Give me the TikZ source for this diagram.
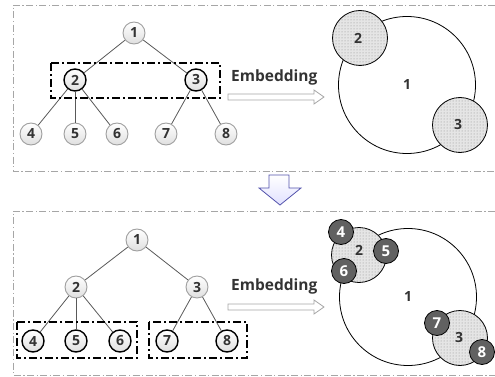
\documentclass[tikz,border=0pt]{standalone}
\usepackage{fontspec}
\setmainfont{Open Sans}
\usetikzlibrary{patterns}
\begin{document}
\begin{tikzpicture}[x=1pt,y=-1pt,
  panel/.style={draw=gray!70, line width=0.7pt, dash pattern=on 7pt off 2.5pt on 1.2pt off 2.5pt},
  group/.style={draw=black, line width=1.1pt, dash pattern=on 8pt off 3pt on 2pt off 3pt},
  tnode/.style={circle, draw=gray!75, line width=0.9pt, top color=white, bottom color=gray!25, minimum size=22pt, inner sep=0pt, font=\bfseries\fontsize{14}{15}\selectfont, text=black!80},
  hnode/.style={tnode, draw=black, line width=1.4pt},
  edge/.style={draw=black!65, line width=0.8pt},
  bigc/.style={circle, draw=black, line width=0.8pt, fill=white, minimum size=137pt, inner sep=0pt, font=\bfseries\fontsize{14}{15}\selectfont, text=black!80},
  dotc/.style={circle, draw=black, line width=0.8pt, preaction={fill=gray!20}, pattern=dots, pattern color=gray!90, minimum size=55pt, inner sep=0pt},
  dotl/.style={font=\bfseries\fontsize{14}{15}\selectfont, text=black!80},
  darkc/.style={circle, draw=black, line width=0.8pt, fill=black!62, minimum size=25pt, inner sep=0pt, font=\bfseries\fontsize{15}{16}\selectfont, text=white},
  emb/.style={font=\bfseries\fontsize{15.5}{17}\selectfont, text=black!80, anchor=west, inner sep=0pt},
  hollow/.style={draw=gray!70, line width=0.8pt, fill=white}
]
\useasboundingbox (0,0) rectangle (495,377);

% panels (open on the right)
\draw[panel] (495,5) -- (13,5) -- (13,171) -- (495,171);
\draw[panel] (495,211) -- (13,211) -- (13,375) -- (495,375);

% ===== top tree =====
\node[tnode] (a1) at (134,33) {1};
\node[hnode] (a2) at (75,80) {2};
\node[hnode] (a3) at (196,80) {3};
\node[tnode] (a4) at (31,134) {4};
\node[tnode] (a5) at (75,134) {5};
\node[tnode] (a6) at (117,134) {6};
\node[tnode] (a7) at (166,134) {7};
\node[tnode] (a8) at (226,134) {8};
\draw[edge] (a1) -- (a2);
\draw[edge] (a1) -- (a3);
\draw[edge] (a2) -- (a4);
\draw[edge] (a2) -- (a5);
\draw[edge] (a2) -- (a6);
\draw[edge] (a3) -- (a7);
\draw[edge] (a3) -- (a8);
\draw[group] (51,63) rectangle (220,98);

\node[emb] (e1) at (231,77) {Embedding};
\draw[hollow] (228,94) -- (314,94) -- (314,90) -- (324,97) -- (314,104) -- (314,100) -- (228,100) -- cycle;

\node[bigc] (b1) at (407,85) {1};
\node[dotc] (b2) at (360,38) {};
\node[dotl] at (358,38) {2};
\node[dotc] (b3) at (460,125) {};
\node[dotl] at (458,125) {3};

% ===== down arrow =====
\draw[draw=blue!35!gray, line width=0.8pt, top color=white, bottom color=blue!12]
  (269,175) -- (289,175) -- (289,188) -- (301,188) -- (280,205) -- (259,188) -- (269,188) -- cycle;

% ===== bottom tree =====
\node[tnode] (c1) at (137,240) {1};
\node[tnode] (c2) at (76,287) {2};
\node[tnode] (c3) at (197,287) {3};
\node[hnode] (c4) at (33,341) {4};
\node[hnode] (c5) at (76,341) {5};
\node[hnode] (c6) at (120,341) {6};
\node[hnode] (c7) at (167,341) {7};
\node[hnode] (c8) at (227,341) {8};
\draw[edge] (c1) -- (c2);
\draw[edge] (c1) -- (c3);
\draw[edge] (c2) -- (c4);
\draw[edge] (c2) -- (c5);
\draw[edge] (c2) -- (c6);
\draw[edge] (c3) -- (c7);
\draw[edge] (c3) -- (c8);
\draw[group] (17,322) rectangle (137,358);
\draw[group] (149,322) rectangle (247,358);

\node[emb] (e2) at (231,286) {Embedding};
\draw[hollow] (228,304) -- (314,304) -- (314,300) -- (324,307) -- (314,314) -- (314,310) -- (228,310) -- cycle;

\node[bigc] (d1) at (408,297) {1};
\node[dotc] (d2) at (359,255) {};
\node[dotl] at (359,250) {2};
\node[dotc] (d3) at (460,338) {};
\node[dotl] at (459,337) {3};
\node[darkc] (d4) at (341,232) {4};
\node[darkc] (d5) at (386,251) {5};
\node[darkc] (d6) at (344,271) {6};
\node[darkc] (d7) at (437,323) {7};
\node[darkc] (d8) at (482,352) {8};
\end{tikzpicture}
\end{document}
